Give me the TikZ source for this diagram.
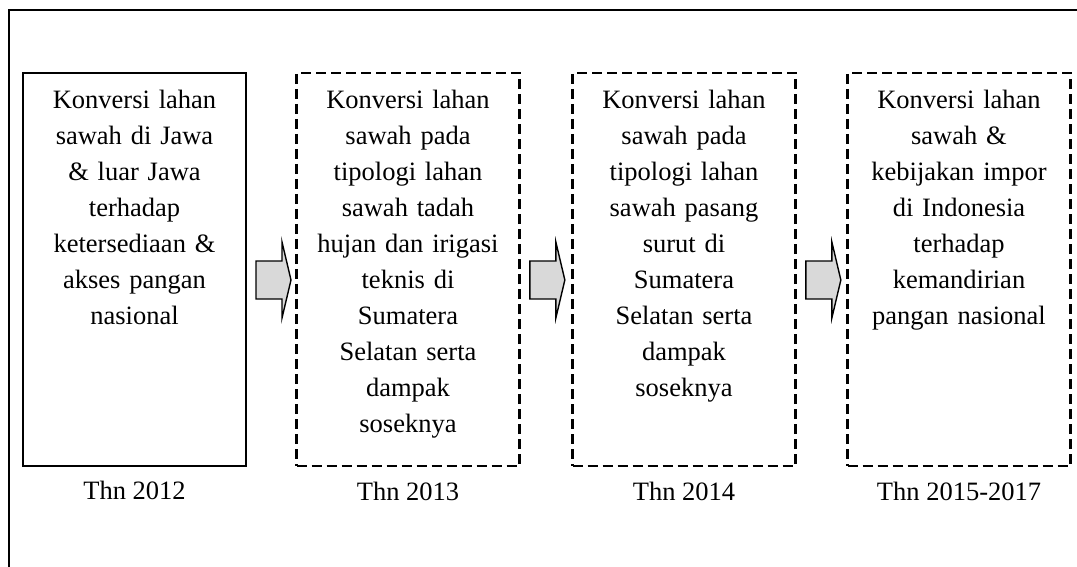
\documentclass[tikz,border=0pt]{standalone}
\usepackage{fontspec}
\setmainfont{Liberation Serif}
\usetikzlibrary{positioning, calc}

\begin{document}
\begin{tikzpicture}[
  x=0.5pt, y=-0.5pt,
  font=\fontsize{13.25pt}{18pt}\selectfont,
  stage/.style={draw, dashed, dash pattern=on 5pt off 2.5pt, line width=1.35pt, inner sep=0pt, text width=111.5pt, align=center, text height=18pt, text depth=178.5pt},
  firststage/.style={stage, solid, line width=1pt},
  yearlab/.style={inner sep=0pt},
  blockarr/.style={draw, line width=0.7pt, fill=black!15, line join=miter},
  frame/.style={draw, line width=0.65pt}
]
\clip (0,0) rectangle (1077,567);
\draw[frame] (9,10) rectangle (1120,620);

\node[firststage] (b1) at (134.5,269.5) {Konversi lahan\\sawah di Jawa\\\& luar Jawa\\terhadap\\ketersediaan \&\\akses pangan\\nasional};
\node[stage] (b2) at (408,269.5) {Konversi lahan\\sawah pada\\tipologi lahan\\sawah tadah\\hujan dan irigasi\\teknis di\\Sumatera\\Selatan serta\\dampak\\soseknya};
\node[stage] (b3) at (684,269.5) {Konversi lahan\\sawah pada\\tipologi lahan\\sawah pasang\\surut di\\Sumatera\\Selatan serta\\dampak\\soseknya};
\node[stage] (b4) at (959,269.5) {Konversi lahan\\sawah \&\\kebijakan impor\\di Indonesia\\terhadap\\kemandirian\\pangan nasional};

\node[yearlab, below=7pt of b1] (y1) {Thn 2012};
\node[yearlab, below=7pt of b2] (y2) {Thn 2013};
\node[yearlab, below=7pt of b3] (y3) {Thn 2014};
\node[yearlab, below=7pt of b4] (y4) {Thn 2015-2017};

% block arrows between the stages
\foreach \s in {b1,b2,b3}
  \draw[blockarr] ($(\s.east)+(9,10.5)$) -- ++(0,-19) -- ++(26,0) -- ++(0,-19) -- ++(9,38) -- ++(-9,38) -- ++(0,-19) -- ++(-26,0) -- cycle;
\end{tikzpicture}
\end{document}
